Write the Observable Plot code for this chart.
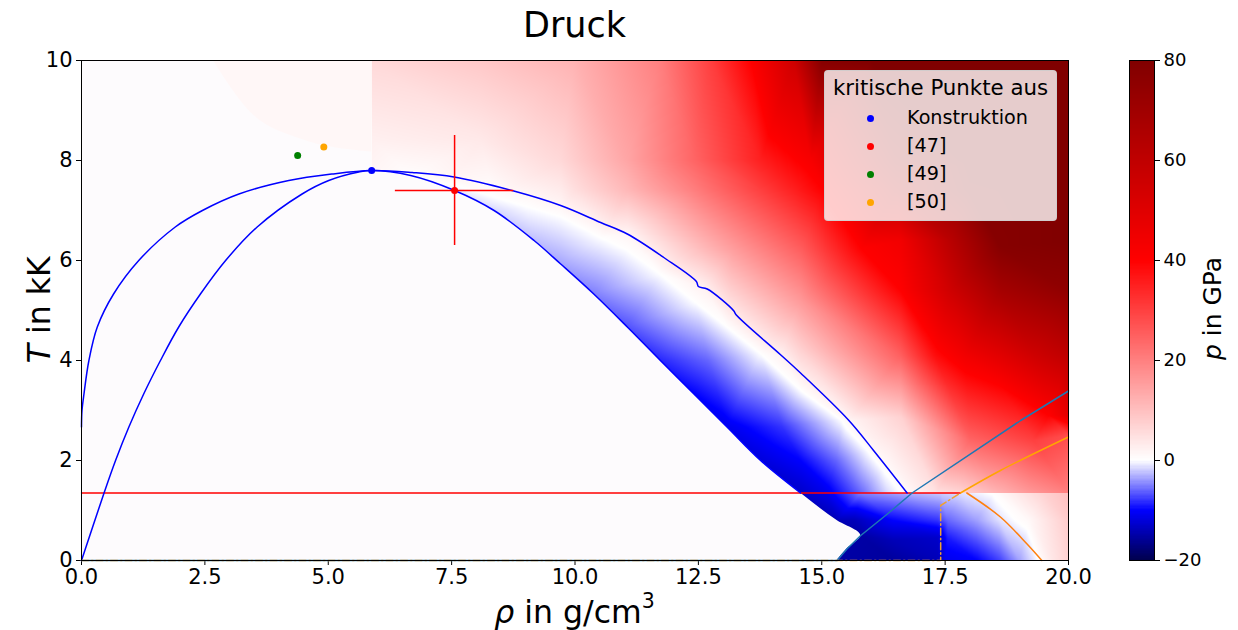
<!DOCTYPE html>
<html><head><meta charset="utf-8">
<script src="https://cdn.jsdelivr.net/npm/d3@7"></script>
<script src="https://cdn.jsdelivr.net/npm/@observablehq/plot@0.6"></script>
<style>
body{margin:0;background:#fff;font-family:"DejaVu Sans",sans-serif;}
#root{position:relative;width:1238px;height:630px;overflow:hidden;background:#fff;}
.abs{position:absolute;white-space:nowrap;line-height:1;color:#000;}
.legend{position:absolute;left:824px;top:70px;width:231px;height:149px;background:rgba(255,255,255,0.8);border:1px solid rgba(204,204,204,0.8);border-radius:4px;font-size:19.2px;}
.legend .row{position:absolute;height:22px;line-height:22px;white-space:nowrap;}
.legend .mk{position:absolute;width:7px;height:7px;border-radius:50%;}
</style></head><body><div id="root"></div>
<script>
// ---------- data ----------
const xTicks = [0, 2.5, 5, 7.5, 10, 12.5, 15, 17.5, 20];
const yTicks = [0, 2, 4, 6, 8, 10];
const colorbarTicks = [-20, 0, 20, 40, 60, 80];
const colorStops = [-20, -10, 0, 40, 80];
const colorStopColors = ["#00004d", "#0000ff", "#ffffff", "#ff0000", "#800000"];

// curves [rho g/cm3, T kK]
const binodal = [[0,2.67],[0.01,3.0],[0.05,3.33],[0.15,4.0],[0.32,4.67],[0.65,5.33],[1.16,6.0],[1.9,6.67],[2.45,7.0],[3.19,7.33],[4.2,7.6],[5.08,7.73],[5.88,7.8],[6.7,7.76],[7.55,7.67],[8.76,7.39],[9.71,7.1],[10.52,6.76],[11.06,6.53],[11.8,6.06],[12.46,5.58],[12.5,5.48],[12.68,5.43],[13.22,4.99],[13.26,4.92],[14.16,4.12],[14.57,3.75],[15.55,2.8],[16.05,2.2],[16.73,1.35]];
const spinodal = [[0,0],[0.45,1.33],[0.69,2.0],[0.96,2.67],[1.26,3.33],[1.6,4.0],[1.97,4.67],[2.41,5.33],[2.92,6.0],[3.56,6.67],[4.47,7.33],[5.01,7.6],[5.62,7.77],[5.88,7.8],[6.67,7.7],[7.56,7.4],[8.36,7.0],[9.17,6.4],[9.71,5.93],[10.38,5.33],[11.06,4.67],[11.73,4.0],[12.41,3.33],[13.08,2.67],[13.76,2.0],[14.57,1.35]];
const spinodalBelowTriple = [[15.31,0],[15.51,0.23],[15.79,0.5],[15.31,0.8]];
const tripleLine = [[0,1.35],[17.81,1.35]];
const blueBoundary = [[0,0],[15.31,0],[15.51,0.23],[15.79,0.5],[16.33,0.93],[16.83,1.35],[19.03,2.8],[20,3.39]];
const orangeBoundary = [[17.81,1.35],[18.62,1.8],[20,2.47]];
const orangeDashDot = [[0,0],[17.41,0],[17.41,1.1],[17.81,1.35]];
const meltCurve = [[17.94,1.35],[18.62,0.87],[19.16,0.33],[19.46,0]];
const faintContour = [[2.67,10],[3.42,8.97],[4.44,8.43],[5.88,8.17]];
const faintContourP = 1.2;
const emptyRegionColor = "#fdfbfd";

// critical points
const critNames = ["Konstruktion", "[47]", "[49]", "[50]"];
const critRho = [5.88, 7.56, 4.38, 4.91];
const critT = [7.8, 7.4, 8.1, 8.27];
const critColors = ["blue", "red", "green", "orange"];
const err47 = {rho: 7.56, T: 7.4, dRho: 1.2, dT: 1.1};

// pressure samples [rho, T, p in GPa] above the triple line
const pUpper = [
 [5.88,10,6],[8.1,10,8.6],[10,10,12],[11.73,10,20],[12.75,10,30],[13.56,10,40],[14.43,10,55],[15.0,10,78],[16.0,10,80],[20,10,80],
 [5.88,8.43,2.4],[8.1,8.43,3.5],[9.71,8,6],[11.06,8,14],[12.4,8,24],[13.76,8,35],[14.77,8,42],[16.5,8,70],[18,8,80],[20,8,80],
 [10,7.4,5],[11.06,7.4,11],[12.4,7.4,20],[13.76,7.4,30],[14.43,7.4,35],[15.03,7.4,40],[16.5,7.4,62],[18,7.4,78],[20,7.4,80],
 [12.54,6.2,10],[13.2,6.2,15],[14.57,6.2,25],[15.8,6.24,40],[16.6,6.4,44],[17.6,6.4,62],[18.6,6.3,78],[20,6.4,80],
 [14.57,5.2,16],[16.6,5.4,40],[17.6,5.4,55],[18.6,5.4,68],[20,5.4,75],
 [14.57,4.2,7],[16.6,4.1,25],[17.3,4.1,38],[17.9,4.1,44],[18.6,4.1,49],[19.3,4.1,55],[20,4.1,60],
 [16.6,2.87,7],[18.6,3.5,40],[19.6,2.9,40],[20,2.9,48],[18,2.4,24],[19.3,2.4,30],[20,2.5,28],
 [15.1,1.35,-11],[15.79,1.35,-6],[16.33,1.35,-1.5],[16.66,1.35,0.3],[17.3,1.35,4.5],[17.8,1.35,6.5],[18.6,1.35,12],[19.2,1.35,16],[20,1.35,20]
];
const pSpinodalEdge = [[6.67,7.7,0.3],[7.56,7.4,-0.8],[8.36,7.0,-1.5],[9.17,6.4,-2.5],[9.71,5.93,-3.5],[10.38,5.33,-5],[11.06,4.67,-6.8],[11.73,4.0,-8.5],[12.41,3.33,-10],[13.08,2.67,-11],[13.76,2.0,-12],[14.57,1.35,-13]];
const pMidBand = [[12.7,4.0,-6],[14.2,2.67,-8],[14.57,2.0,-10],[15.3,2.0,-6]];
const pZeroContour = [[8.35,7.27,0],[9.0,7.08,0],[9.71,6.87,0],[10.52,6.45,0],[11.06,6.2,0],[11.73,5.72,0],[12.45,5.15,0],[13.1,4.65,0],[13.76,4.13,0],[14.57,3.4,0],[15.4,2.8,0],[15.92,2.2,0],[16.25,1.8,0]];
const pBinodalRight = [[5.88,7.8,1.5],[7.55,7.67,1.5],[9.71,7.1,1.5],[11.06,6.53,1.5],[12.6,5.45,2],[14.16,4.12,2],[15.55,2.8,1.5],[16.05,2.2,1.2]];
// pressure samples below the triple line
const pBelowTriple = [
 [14.57,1.35,-13],[15.1,1.35,-11],[15.79,1.35,-5],[16.8,1.35,-3],[17.41,1.35,-2],[17.8,1.35,-1.2],[18.5,1.35,0.3],[19.5,1.35,7],[20,1.35,10],
 [15.31,0.8,-14],[15.65,0.8,-14],[16.45,0.8,-10],[17.35,0.8,-8],[17.55,0.8,-6],[18.15,0.8,-3.7],[18.6,0.8,-1.2],[19.2,0.8,1],[20,0.8,8],
 [15.79,0.5,-15],[16.45,0.4,-14],[17.35,0.45,-13],[17.55,0.45,-9],
 [15.31,0,-15],[16.45,0,-15.5],[17.35,0,-14],[17.5,0,-11],[18.15,0,-10],[18.6,0,-7.5],[19,0,-3.7],[19.3,0,-1],[19.7,0,4],[20,0,7]
];

// ---------- build ----------
const root = document.getElementById("root");
const colorOpts = {type: "linear", domain: colorStops, range: colorStopColors, interpolate: "rgb"};
const pt = a => ({rho: a[0], T: a[1]});
const smp = a => ({rho: a[0], T: a[1], p: a[2]});
const upperSamples = [...pUpper, ...pSpinodalEdge, ...pMidBand, ...pZeroContour, ...pBinodalRight].map(smp);
const lowerSamples = pBelowTriple.map(smp);
const rightBranch = spinodal.filter(d => d[0] >= 5.88).reverse();
const maskSmooth = [...spinodalBelowTriple, ...rightBranch].map(pt);
const maskTop = [[5.88, 7.8], [5.88, 10]].map(pt);
const crit = critNames.map((n, i) => ({name: n, rho: critRho[i], T: critT[i], color: critColors[i]}));

const lineOf = (arr, opts) => Plot.line(arr.map(pt), {x: "rho", y: "T", ...opts});
const smooth = {curve: "catmull-rom"};

const main = Plot.plot({
  width: 1100, height: 590,
  marginTop: 20, marginBottom: 70, marginLeft: 81, marginRight: 32,
  style: {fontFamily: "DejaVu Sans", fontSize: "21px", background: "white", color: "black"},
  x: {domain: [0, 20], ticks: xTicks, tickFormat: d => d.toFixed(1), label: null, tickSize: 5, tickPadding: 4},
  y: {domain: [0, 10], ticks: yTicks, label: null, tickSize: 5, tickPadding: 4},
  color: colorOpts,
  marks: [
    Plot.raster(upperSamples, {x: "rho", y: "T", fill: "p", interpolate: "barycentric", x1: 5.88, x2: 20, y1: 1.35, y2: 10}),
    Plot.raster(lowerSamples, {x: "rho", y: "T", fill: "p", interpolate: "barycentric", x1: 14, x2: 20, y1: 0, y2: 1.35}),
    Plot.areaX(maskSmooth, {y: "T", x1: 0, x2: "rho", fill: emptyRegionColor, curve: "monotone-y"}),
    Plot.areaX(maskTop, {y: "T", x1: 0, x2: "rho", fill: emptyRegionColor}),
    Plot.areaY(faintContour.map(pt), {x: "rho", y1: "T", y2: 10, fill: () => faintContourP, curve: "monotone-x"}),
    lineOf(tripleLine, {stroke: "red", strokeWidth: 1.3}),
    lineOf(binodal, {stroke: "blue", strokeWidth: 1.5, ...smooth}),
    lineOf(spinodal, {stroke: "blue", strokeWidth: 1.5, ...smooth}),
    lineOf(blueBoundary, {stroke: "#1f77b4", strokeWidth: 1.5}),
    lineOf(orangeBoundary, {stroke: "orange", strokeWidth: 1.5, ...smooth}),
    lineOf(orangeDashDot, {stroke: "#f0a030", strokeWidth: 1.5, strokeDasharray: "7,3,1.5,3"}),
    lineOf(meltCurve, {stroke: "#ff7f0e", strokeWidth: 1.5, ...smooth}),
    Plot.ruleY([err47], {y: "T", x1: d => d.rho - d.dRho, x2: d => d.rho + d.dRho, stroke: "red", strokeWidth: 1.5}),
    Plot.ruleX([err47], {x: "rho", y1: d => d.T - d.dT, y2: d => d.T + d.dT, stroke: "red", strokeWidth: 1.5}),
    ...crit.map(c => Plot.dot([c], {x: "rho", y: "T", r: 3.5, fill: c.color, stroke: "none"})),
    Plot.frame({stroke: "black", strokeWidth: 1})
  ]
});
main.style.position = "absolute"; main.style.left = "0px"; main.style.top = "40px";
root.appendChild(main);

const cbStep = 0.25;
const cbValues = d3.range(-20, 80, cbStep);
const cbar = Plot.plot({
  width: 138, height: 590,
  marginTop: 20, marginBottom: 70, marginLeft: 29, marginRight: 84,
  style: {fontFamily: "DejaVu Sans", fontSize: "18px", background: "transparent", color: "black"},
  x: {domain: [0, 1], axis: null},
  y: {domain: [-20, 80], ticks: colorbarTicks, axis: "right", label: null, tickSize: 5, tickPadding: 4,
      tickFormat: d => (d < 0 ? "\u2212" + Math.abs(d) : String(d))},
  color: colorOpts,
  marks: [
    Plot.rect(cbValues, {x1: 0, x2: 1, y1: d => d, y2: d => d + cbStep, fill: d => d + cbStep / 2, shapeRendering: "crispEdges"}),
    Plot.frame({stroke: "black", strokeWidth: 1})
  ]
});
cbar.style.position = "absolute"; cbar.style.left = "1100px"; cbar.style.top = "40px";
root.appendChild(cbar);

// texts
function addText(html, css) {
  const d = document.createElement("div");
  d.className = "abs"; d.innerHTML = html;
  Object.assign(d.style, css);
  root.appendChild(d);
  return d;
}
addText("Druck", {fontSize: "35px", left: "0px", width: "1149px", textAlign: "center", top: "8px"});
addText('<span style="font-style:italic">\u03c1</span> in g/cm<span style="font-size:65%;vertical-align:0.75em">3</span>',
  {fontSize: "31.5px", left: "0px", width: "1149px", textAlign: "center", top: "591px"});
addText('<span style="font-style:italic">T</span> in kK',
  {fontSize: "31.5px", left: "-60px", width: "200px", textAlign: "center", top: "294px", transform: "rotate(-90deg)"});
addText('<span style="font-style:italic">p</span> in GPa',
  {fontSize: "25px", left: "1112px", width: "200px", textAlign: "center", top: "296px", transform: "rotate(-90deg)"});

// legend
const lg = document.createElement("div");
lg.className = "legend";
root.appendChild(lg);
const lt = document.createElement("div");
lt.className = "row"; lt.textContent = "kritische Punkte aus";
Object.assign(lt.style, {left: "0px", width: "231px", textAlign: "center", top: "6px", fontSize: "21.3px"});
lg.appendChild(lt);
crit.forEach((c, i) => {
  const row = document.createElement("div");
  row.className = "row";
  Object.assign(row.style, {left: "82px", top: (36 + i * 28) + "px"});
  row.textContent = c.name;
  lg.appendChild(row);
  const mk = document.createElement("span");
  mk.className = "mk";
  Object.assign(mk.style, {left: "42px", top: (43.5 + i * 28) + "px", background: c.color});
  lg.appendChild(mk);
});
</script></body></html>
